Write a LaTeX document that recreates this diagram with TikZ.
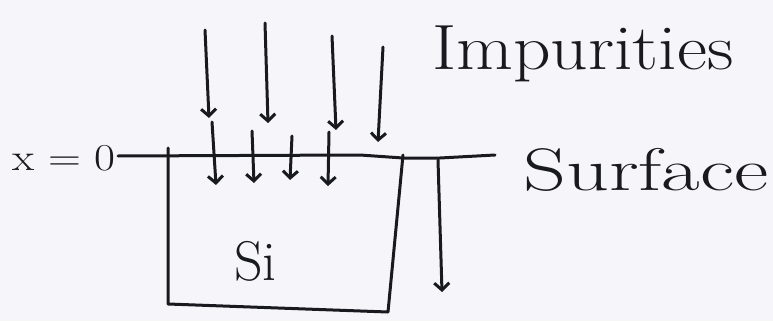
\documentclass[tikz,border=0pt]{standalone}
\usetikzlibrary{arrows.meta}
\definecolor{ink}{RGB}{25,25,32}
\definecolor{paper}{RGB}{246,246,250}
\begin{document}
\begin{tikzpicture}[x=1pt,y=-1pt,
  pen/.style={draw=ink, line width=3pt, line cap=round, line join=round},
  dart/.style={pen, -{Straight Barb[length=7pt,width=15pt,line width=3pt]}},
  lbl/.style={text=ink, inner sep=0pt}]
\fill[paper] (0,0) rectangle (773,321);
\useasboundingbox (0,0) rectangle (773,321);

% labels
\node[lbl, font=\fontsize{64}{64}\selectfont, anchor=base west] (imp) at (432,70) {\scalebox{1.15}[1]{Impurities}};
\node[lbl, font=\fontsize{60}{60}\selectfont, anchor=base west] (surf) at (523,190) {\scalebox{1.4}[1]{Surface}};
\node[lbl, font=\fontsize{38}{38}\selectfont, anchor=base west] (xzero) at (12,170) {\scalebox{1.2}[1]{x = 0}};
\node[lbl, font=\fontsize{56}{56}\selectfont, anchor=base west] (si) at (234,280) {Si};

% surface line
\coordinate (s0) at (118,156);
\coordinate (s1) at (495,155);
\draw[pen] (s0) -- (360,155) -- (403,158) -- (440,158) -- (s1);

% silicon block
\coordinate (btl) at (168,148);
\coordinate (bbl) at (168,304);
\coordinate (bbr) at (388,312);
\coordinate (btr) at (403,155);
\draw[pen] (btl) -- (bbl) -- (bbr) -- (btr);

% incoming impurities
\coordinate (a1) at (205,30);  \coordinate (b1) at (209,118);
\coordinate (a2) at (265,23);  \coordinate (b2) at (268,123);
\coordinate (a3) at (332,36);  \coordinate (b3) at (336,130);
\coordinate (a4) at (383,47);  \coordinate (b4) at (378,142);
\foreach \i in {1,...,4} \draw[dart] (a\i) -- (b\i);

% diffusion into the block
\coordinate (c1) at (212,122); \coordinate (d1) at (216,185);
\coordinate (c2) at (252,131); \coordinate (d2) at (254,183);
\coordinate (c3) at (292,136); \coordinate (d3) at (290,180);
\coordinate (c4) at (329,132); \coordinate (d4) at (328,186);
\coordinate (c5) at (438,160); \coordinate (d5) at (442,292);
\foreach \i in {1,...,5} \draw[dart] (c\i) -- (d\i);
\end{tikzpicture}
\end{document}
